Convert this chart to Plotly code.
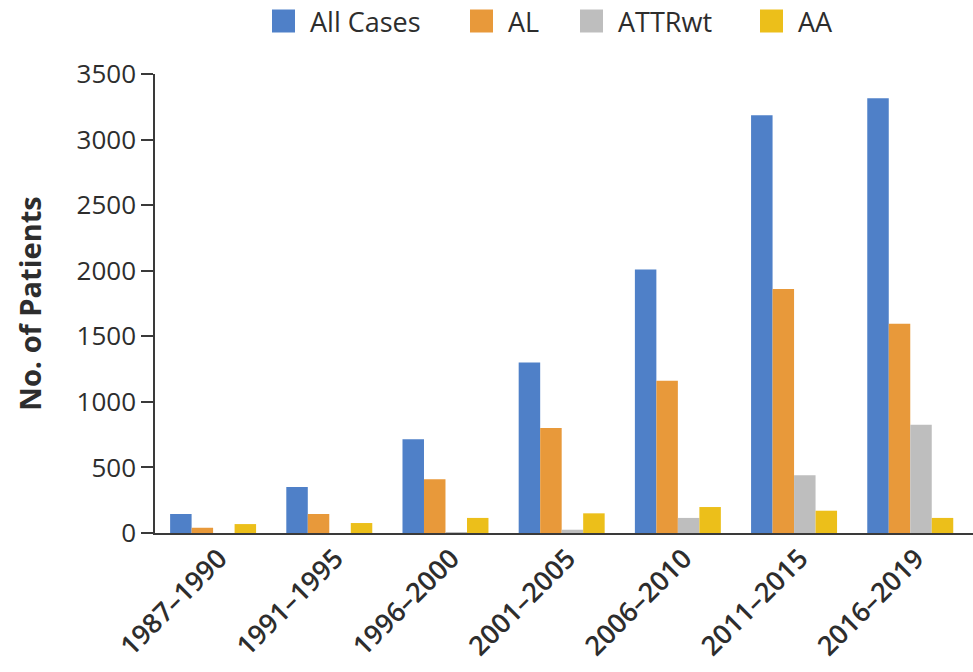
import plotly.graph_objects as go

# Patient counts per diagnosis period
periods = ["1987–1990", "1991–1995", "1996–2000", "2001–2005",
           "2006–2010", "2011–2015", "2016–2019"]
all_cases = [145, 350, 715, 1300, 2010, 3185, 3315]
al = [40, 145, 410, 800, 1160, 1860, 1595]
attrwt = [0, 0, 5, 25, 115, 440, 825]
aa = [68, 76, 115, 150, 198, 170, 115]

series_names = ["All Cases", "AL", "ATTRwt", "AA"]
series_values = [all_cases, al, attrwt, aa]
series_colors = ["#4F80C8", "#E8993A", "#BEBEBE", "#ECBF1A"]

y_ticks = [0, 500, 1000, 1500, 2000, 2500, 3000, 3500]

W, H = 973, 672
M = dict(l=155, r=0, t=74, b=139)
PW = W - M["l"] - M["r"]
PH = H - M["t"] - M["b"]

TXT = "#2d2d2d"
FONT = "Open Sans"

fig = go.Figure()
for name, vals, col in zip(series_names, series_values, series_colors):
    fig.add_trace(go.Bar(
        x=periods, y=vals, name=name,
        marker=dict(color=col, line=dict(width=0)),
        showlegend=False,
    ))


def px_to_paper_x(px):
    return (px - M["l"]) / PW


def px_to_paper_y(py):
    return 1 + (M["t"] - py) / PH


# Legend row across the top
legend_left = [272, 470, 580, 760]
sq = 23
legend_mid = 21
for left, name, col in zip(legend_left, series_names, series_colors):
    fig.add_shape(
        type="rect", xref="paper", yref="paper",
        x0=px_to_paper_x(left), x1=px_to_paper_x(left + sq),
        y0=px_to_paper_y(legend_mid + sq / 2), y1=px_to_paper_y(legend_mid - sq / 2),
        fillcolor=col, line=dict(width=0), layer="above",
    )
    fig.add_annotation(
        xref="paper", yref="paper",
        x=px_to_paper_x(left + sq + 13), y=px_to_paper_y(legend_mid),
        xanchor="left", yanchor="middle", showarrow=False,
        text=name, font=dict(family=FONT, size=27, color=TXT),
    )

fig.update_layout(
    width=W, height=H,
    margin=M,
    paper_bgcolor="white", plot_bgcolor="white",
    barmode="group", bargap=0.26, bargroupgap=0,
    font=dict(family=FONT, color=TXT),
    showlegend=False,
)

fig.update_xaxes(
    type="category",
    range=[-0.5, 6.54],
    showgrid=False, zeroline=False,
    showline=True, linecolor="#3a3a3a", linewidth=2,
    ticks="", tickangle=-45,
    ticklabelshift=6, ticklabelstandoff=-3,
    tickfont=dict(family=FONT, size=27, color=TXT, weight=600),
    automargin=False,
)

fig.update_yaxes(
    range=[0, 3500],
    tickvals=y_ticks,
    showgrid=False, zeroline=False,
    showline=True, linecolor="#3a3a3a", linewidth=1.5,
    ticks="outside", ticklen=12, tickwidth=1.5, tickcolor="#3a3a3a",
    tickfont=dict(family=FONT, size=26, color=TXT),
    title=dict(text="No. of Patients", standoff=26,
               font=dict(family=FONT, size=29, color=TXT, weight=700)),
    automargin=False,
)

fig.write_html("out.html")
